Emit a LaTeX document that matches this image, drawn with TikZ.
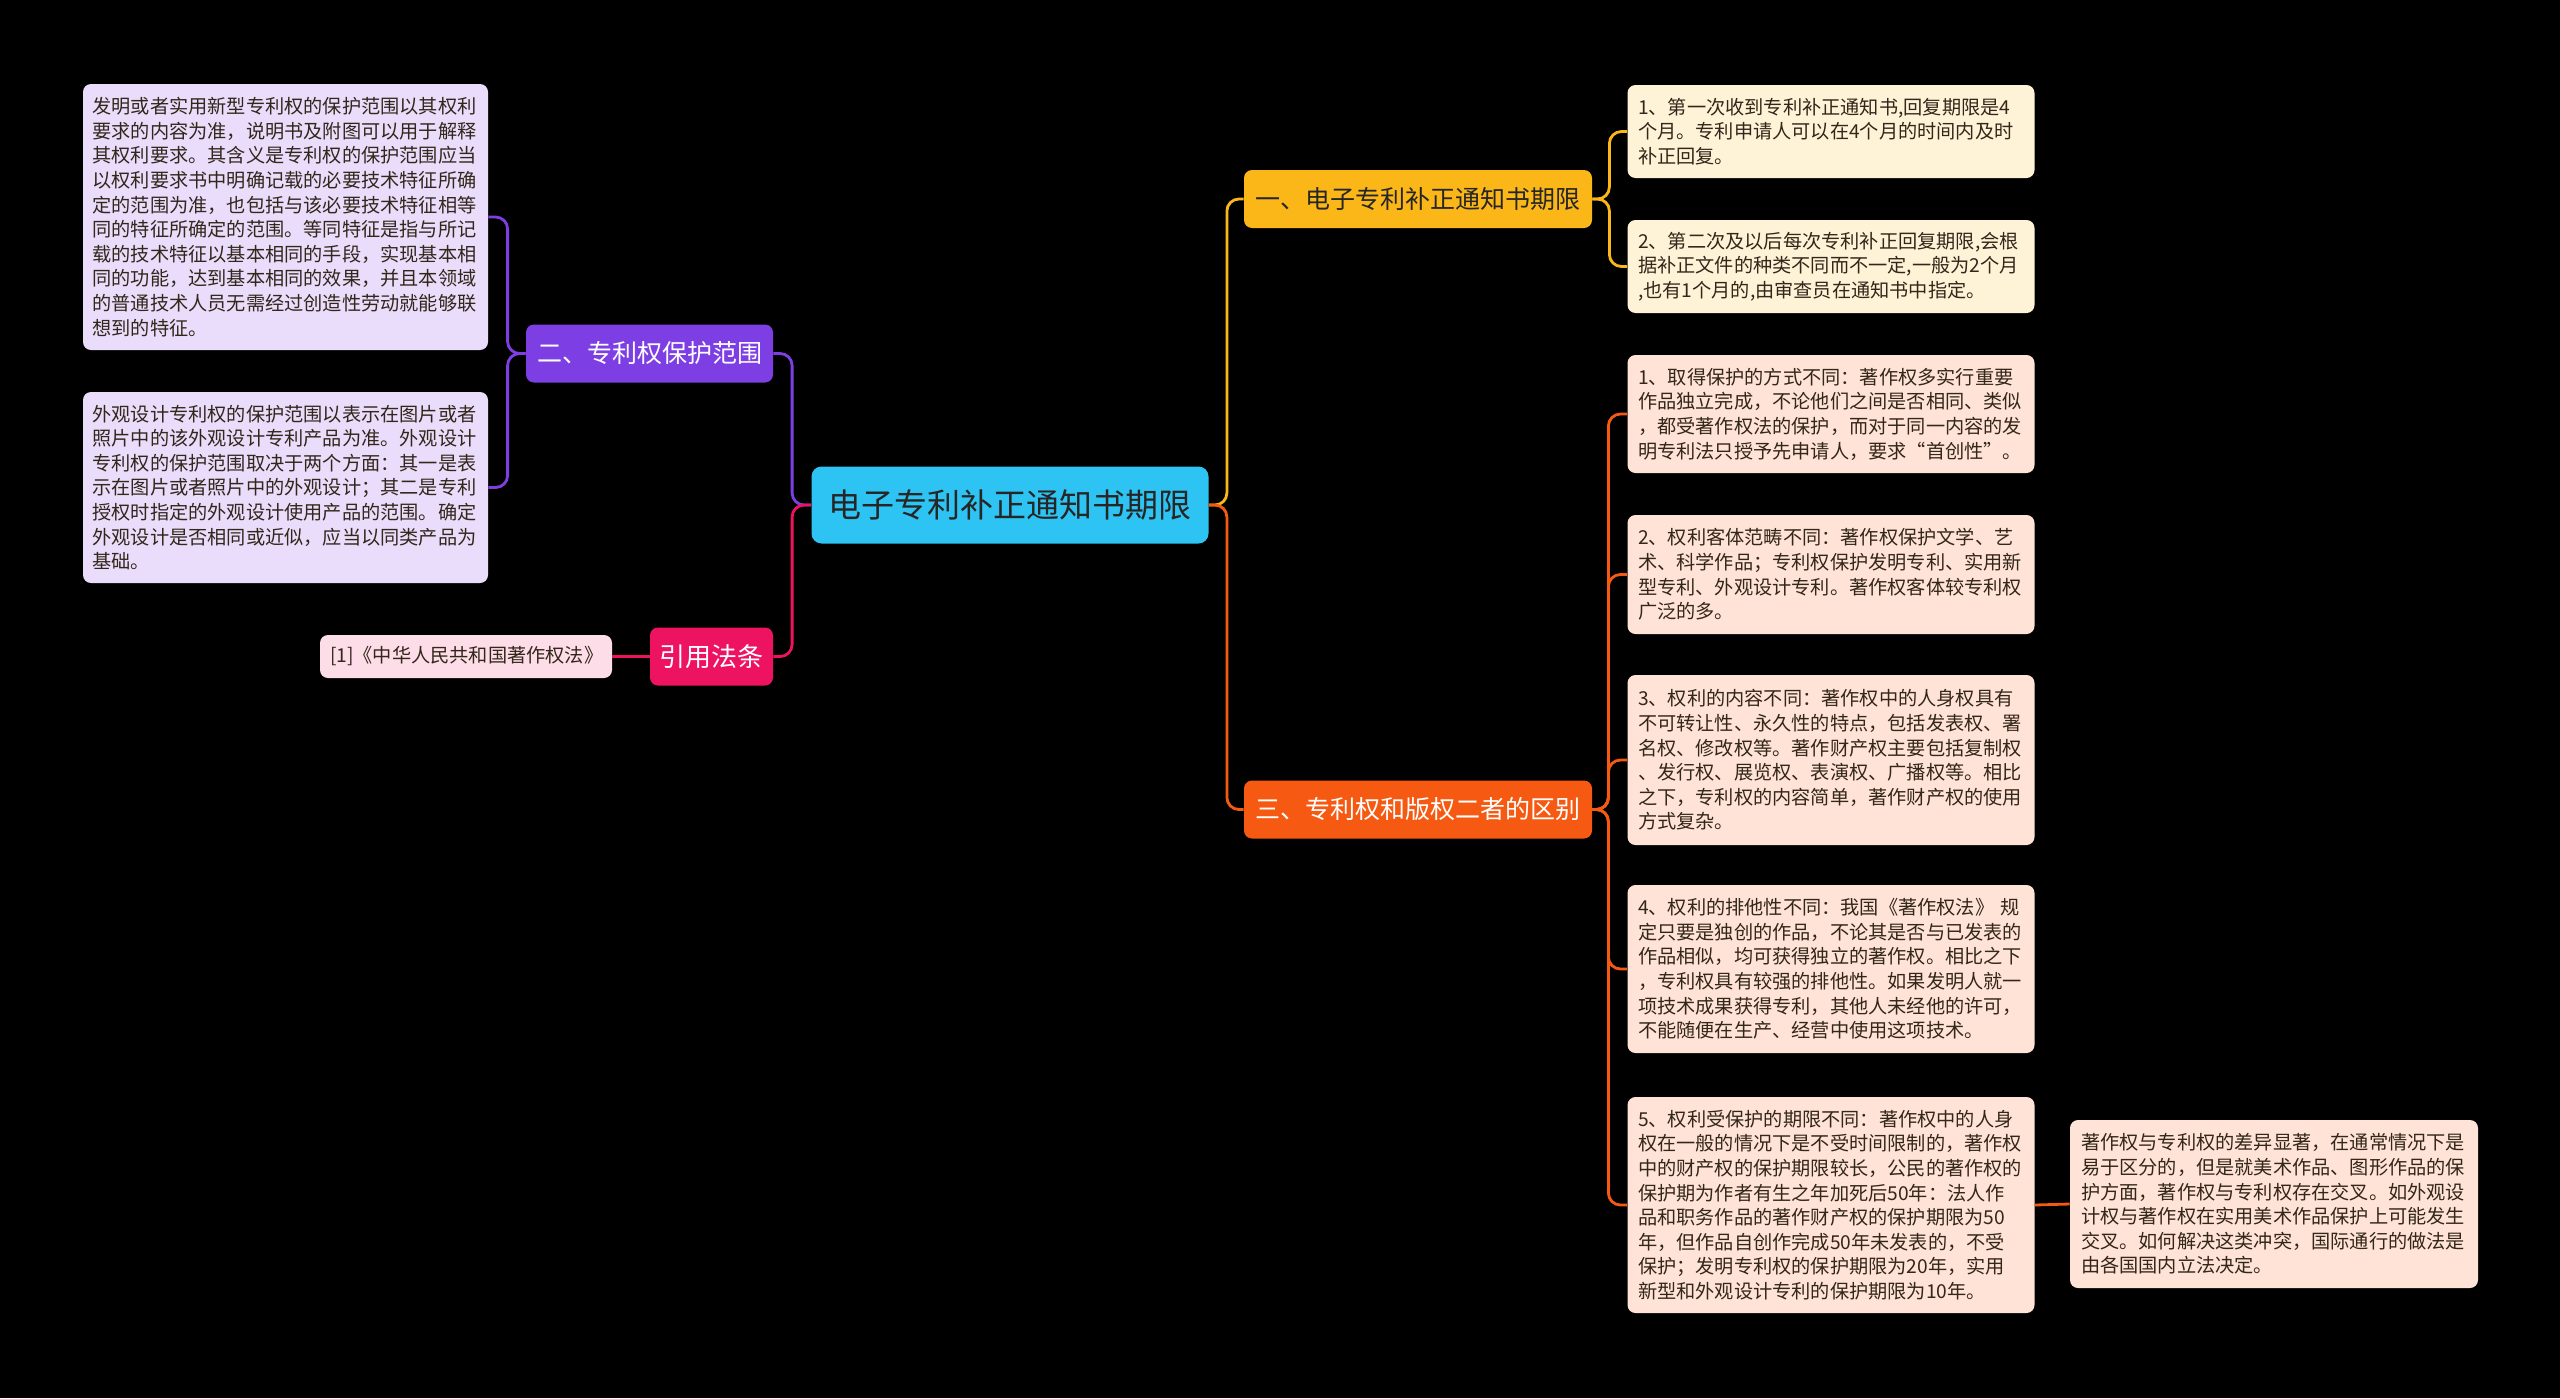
\documentclass[tikz,border=0pt]{standalone}
\usepackage{fontspec}
\setmainfont{Noto Sans CJK SC}
\usepackage{xcolor}
\definecolor{rootcol}{HTML}{2DC3F2}
\definecolor{yelcol}{HTML}{FBB717}
\definecolor{orgcol}{HTML}{F65A12}
\definecolor{purcol}{HTML}{7D3FE3}
\definecolor{pnkcol}{HTML}{EE1360}
\definecolor{yelleaf}{HTML}{FFF3D7}
\definecolor{orgleaf}{HTML}{FFE3D6}
\definecolor{purleaf}{HTML}{E9DDFB}
\definecolor{pnkleaf}{HTML}{FDDDE8}
\definecolor{leaftext}{HTML}{33261A}
\usetikzlibrary{calc}

\begin{document}
\begin{tikzpicture}[x=0.5pt,y=-0.5pt,
	every node/.style={align=left,inner sep=0pt,rounded corners=4pt},
	leafbox/.style={minimum width=203.5pt,text width=193pt,text=leaftext,font=\fontsize{9.6}{12.3}\selectfont},
	branchbox/.style={align=center,font=\fontsize{12.5}{14}\selectfont,minimum height=29pt},
	link/.style={line width=1.4pt,rounded corners=6pt}]
	\fill[black](0,0)rectangle(2560,1398);
	\useasboundingbox(0,0)rectangle(2560,1398);
	% centre and main branches
	\node(root)at(1010,505)[align=center,fill=rootcol,text=black!85,minimum width=198.5pt,minimum height=38.5pt,rounded corners=5pt,font=\fontsize{16.5}{18}\selectfont]{电子专利补正通知书期限};
	\node(b1)at(1418,199)[branchbox,fill=yelcol,text=black!85,minimum width=174pt]{一、电子专利补正通知书期限};
	\node(b3)at(1418,809.5)[branchbox,fill=orgcol,text=white,minimum width=174pt]{三、专利权和版权二者的区别};
	\node(b2)at(649.5,353.5)[branchbox,fill=purcol,text=white,minimum width=123.5pt]{二、专利权保护范围};
	\node(law)at(711.5,656.5)[branchbox,fill=pnkcol,text=white,minimum width=61.5pt,font=\fontsize{13}{15}\selectfont]{引用法条};
	% leaves
	\node(r1)at(1831,131.5)[leafbox,fill=yelleaf,minimum height=46.5pt]{1、第一次收到专利补正通知书,回复期限是4\\个月。专利申请人可以在4个月的时间内及时\\补正回复。};
	\node(r2)at(1831,266.5)[leafbox,fill=yelleaf,minimum height=46.5pt]{2、第二次及以后每次专利补正回复期限,会根\\据补正文件的种类不同而不一定,一般为2个月\\,也有1个月的,由审查员在通知书中指定。};
	\node(s1)at(1831,414)[leafbox,fill=orgleaf,minimum height=59pt]{1、取得保护的方式不同：著作权多实行重要\\作品独立完成，不论他们之间是否相同、类似\\，都受著作权法的保护，而对于同一内容的发\\明专利法只授予先申请人，要求“首创性”。};
	\node(s2)at(1831,574.5)[leafbox,fill=orgleaf,minimum height=59.5pt]{2、权利客体范畴不同：著作权保护文学、艺\\术、科学作品；专利权保护发明专利、实用新\\型专利、外观设计专利。著作权客体较专利权\\广泛的多。};
	\node(s3)at(1831,760)[leafbox,fill=orgleaf,minimum height=85pt]{3、权利的内容不同：著作权中的人身权具有\\不可转让性、永久性的特点，包括发表权、署\\名权、修改权等。著作财产权主要包括复制权\\、发行权、展览权、表演权、广播权等。相比\\之下，专利权的内容简单，著作财产权的使用\\方式复杂。};
	\node(s4)at(1831,969)[leafbox,fill=orgleaf,minimum height=84pt]{4、权利的排他性不同：我国《著作权法》 规\\定只要是独创的作品，不论其是否与已发表的\\作品相似，均可获得独立的著作权。相比之下\\，专利权具有较强的排他性。如果发明人就一\\项技术成果获得专利，其他人未经他的许可，\\不能随便在生产、经营中使用这项技术。};
	\node(s5)at(1831,1205)[leafbox,fill=orgleaf,minimum height=108pt]{5、权利受保护的期限不同：著作权中的人身\\权在一般的情况下是不受时间限制的，著作权\\中的财产权的保护期限较长，公民的著作权的\\保护期为作者有生之年加死后50年：法人作\\品和职务作品的著作财产权的保护期限为50\\年，但作品自创作完成50年未发表的，不受\\保护；发明专利权的保护期限为20年，实用\\新型和外观设计专利的保护期限为10年。};
	\node(s6)at(2274,1204)[leafbox,fill=orgleaf,minimum width=204pt,minimum height=84pt]{著作权与专利权的差异显著，在通常情况下是\\易于区分的，但是就美术作品、图形作品的保\\护方面，著作权与专利权存在交叉。如外观设\\计权与著作权在实用美术作品保护上可能发生\\交叉。如何解决这类冲突，国际通行的做法是\\由各国国内立法决定。};
	\node(l1)at(285.5,217)[leafbox,fill=purleaf,minimum width=202.5pt,minimum height=133pt]{发明或者实用新型专利权的保护范围以其权利\\要求的内容为准，说明书及附图可以用于解释\\其权利要求。其含义是专利权的保护范围应当\\以权利要求书中明确记载的必要技术特征所确\\定的范围为准，也包括与该必要技术特征相等\\同的特征所确定的范围。等同特征是指与所记\\载的技术特征以基本相同的手段，实现基本相\\同的功能，达到基本相同的效果，并且本领域\\的普通技术人员无需经过创造性劳动就能够联\\想到的特征。};
	\node(l2)at(285.5,487.5)[leafbox,fill=purleaf,minimum width=202.5pt,minimum height=95.5pt]{外观设计专利权的保护范围以表示在图片或者\\照片中的该外观设计专利产品为准。外观设计\\专利权的保护范围取决于两个方面：其一是表\\示在图片或者照片中的外观设计；其二是专利\\授权时指定的外观设计使用产品的范围。确定\\外观设计是否相同或近似，应当以同类产品为\\基础。};
	\node(cite)at(466,656.5)[leafbox,fill=pnkleaf,minimum width=146pt,minimum height=21.5pt,text width=136pt,align=center]{[1]《中华人民共和国著作权法》};
	% connectors
	\draw[link,purcol](root.west)--++(-19,0)|-(b2.east);
	\draw[link,pnkcol](root.west)--++(-19,0)|-(law.east);
	\draw[link,yelcol](root.east)--++(18,0)|-(b1.west);
	\draw[link,orgcol](root.east)--++(18,0)|-(b3.west);
	\foreach \n in {r1,r2}\draw[link,yelcol](b1.east)--++(17,0)|-(\n.west);
	\foreach \n in {s1,s2,s3,s4,s5}\draw[link,orgcol](b3.east)--++(16,0)|-(\n.west);
	\draw[link,orgcol](s5.east)--(s6.west);
	\foreach \n in {l1,l2}\draw[link,purcol](b2.west)--++(-18,0)|-(\n.east);
	\draw[link,pnkcol](law.west)--(cite.east);
\end{tikzpicture}
\end{document}
